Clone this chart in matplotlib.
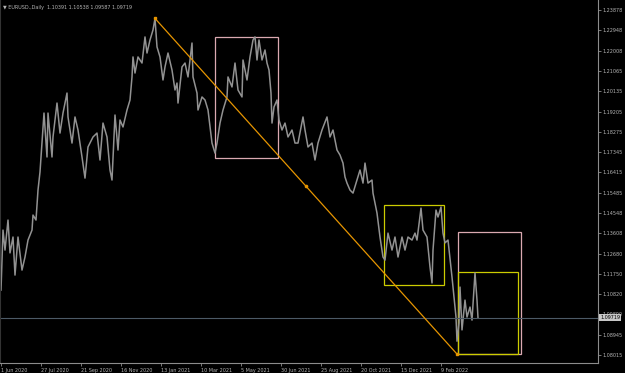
import matplotlib.pyplot as plt
from matplotlib.patches import Rectangle
import matplotlib.transforms as mtransforms

# EURUSD daily, price path (bar index from 1 Jun 2020, price)
bar_idx = [0, 2, 4, 7, 9, 12, 14, 17, 21, 24, 27, 31, 32, 35, 37, 39, 41, 43, 46, 47,
           51, 52, 56, 59, 62, 66, 67, 71, 74, 77, 81, 84, 87, 92, 96, 99, 102, 106, 109, 111,
           114, 117, 119, 122, 126, 129, 131, 132, 134, 137, 141, 144, 146, 149, 152, 154, 156, 159, 162, 164,
           167, 171, 174, 176, 177, 181, 184, 187, 191, 192, 196, 197, 201, 204, 207, 211, 214, 216, 219, 222,
           226, 227, 231, 234, 237, 241, 242, 246, 249, 252, 254, 256, 258, 261, 264, 266, 268, 270, 271, 273,
           276, 278, 281, 284, 287, 291, 294, 297, 302, 304, 307, 311, 314, 317, 321, 326, 329, 332, 336, 339,
           342, 344, 346, 349, 352, 356, 359, 362, 364, 367, 371, 372, 376, 379, 382, 384, 387, 391, 394, 397,
           401, 404, 407, 411, 414, 416, 420, 422, 426, 429, 431, 432, 435, 437, 440, 442, 444, 447, 451, 453,
           455, 456, 458, 459, 461, 464, 466, 469, 471, 474, 476, 477]
price = [1.1100, 1.1376, 1.1284, 1.1422, 1.1271, 1.1344, 1.1169, 1.1344, 1.1192, 1.1252,
         1.1330, 1.1376, 1.1445, 1.1422, 1.1560, 1.1643, 1.1776, 1.1914, 1.1712, 1.1914,
         1.1712, 1.1804, 1.1960, 1.1822, 1.1914, 1.2006, 1.1896, 1.1776, 1.1896, 1.1836,
         1.1712, 1.1615, 1.1758, 1.1804, 1.1822, 1.1698, 1.1868, 1.1804, 1.1652, 1.1606,
         1.1905, 1.1744, 1.1882, 1.1850, 1.1928, 1.1974, 1.2080, 1.2172, 1.2098, 1.2172,
         1.2144, 1.2264, 1.2190, 1.2250, 1.2296, 1.2349, 1.2218, 1.2172, 1.2066, 1.2126,
         1.2190, 1.2112, 1.2020, 1.2052, 1.1960, 1.2126, 1.2144, 1.2080, 1.2236, 1.2080,
         1.2006, 1.1928, 1.1988, 1.1974, 1.1928, 1.1776, 1.1730, 1.1776, 1.1868, 1.1928,
         1.1988, 1.2080, 1.2034, 1.2144, 1.2020, 1.1988, 1.2158, 1.2066, 1.2172, 1.2250,
         1.2264, 1.2158, 1.2250, 1.2158, 1.2204, 1.2144, 1.2112, 1.2006, 1.1868, 1.1942,
         1.1974, 1.1882, 1.1836, 1.1868, 1.1804, 1.1836, 1.1776, 1.1776, 1.1896, 1.1836,
         1.1758, 1.1776, 1.1698, 1.1776, 1.1836, 1.1896, 1.1804, 1.1836, 1.1744, 1.1721,
         1.1684, 1.1620, 1.1592, 1.1560, 1.1546, 1.1606, 1.1652, 1.1592, 1.1684, 1.1592,
         1.1606, 1.1546, 1.1454, 1.1344, 1.1252, 1.1238, 1.1362, 1.1284, 1.1344, 1.1252,
         1.1344, 1.1284, 1.1344, 1.1330, 1.1362, 1.1330, 1.1477, 1.1376, 1.1344, 1.1206,
         1.1133, 1.1284, 1.1468, 1.1436, 1.1482, 1.1362, 1.1317, 1.1330, 1.1160, 1.1068,
         1.0976, 1.0865, 1.0949, 1.1114, 1.0917, 1.1054, 1.0976, 1.1022, 1.0962, 1.1179,
         1.1054, 1.09719]

last_price = 1.09719
title = "\u25BC EURUSD.,Daily  1.10391 1.10538 1.09587 1.09719"

# trend line (bar, price) from the Jan 2021 high to the Mar 2022 low
trend_bars = [154, 456]
trend_prices = [1.2349, 1.0806]

# rectangles: (first bar, last bar, top price, bottom price)
pink_boxes = [(214, 277, 1.2264, 1.1707), (457, 520, 1.1367, 1.0806)]
yellow_boxes = [(383, 443, 1.1491, 1.1123), (457, 517, 1.1183, 1.0806)]

price_ticks = [1.23878, 1.22948, 1.22008, 1.21065, 1.20135, 1.19205, 1.18275, 1.17345, 1.16415,
               1.15485, 1.14548, 1.13608, 1.12680, 1.11750, 1.10820, 1.09890, 1.08945, 1.08015]
date_ticks = [0, 40, 80, 120, 160, 200, 240, 280, 320, 360, 400, 440]
date_labels = ["1 Jun 2020", "27 Jul 2020", "21 Sep 2020", "16 Nov 2020", "13 Jan 2021",
               "10 Mar 2021", "5 May 2021", "30 Jun 2021", "25 Aug 2021", "20 Oct 2021",
               "15 Dec 2021", "9 Feb 2022"]

W, H = 625, 373
fig = plt.figure(figsize=(W / 100, H / 100), dpi=100, facecolor='black')
ax = fig.add_axes([0, 10 / H, 598 / W, 363 / H], facecolor='black')

txt = '#b4b4b4'
grey = '#8c8c8c'

ax.plot(bar_idx, price, color='#929292', lw=1.1)

# current price line
ax.axhline(last_price, color='#4c5a66', lw=0.8)

for x0, x1, top, bot in pink_boxes:
    ax.add_patch(Rectangle((x0, bot), x1 - x0, top - bot, fill=False, ec='#dba9b1', lw=0.9))
for x0, x1, top, bot in yellow_boxes:
    ax.add_patch(Rectangle((x0, bot), x1 - x0, top - bot, fill=False, ec='#cccc00', lw=0.9))

ax.plot(trend_bars, trend_prices, color='#e69500', lw=0.9)
ax.plot(trend_bars, trend_prices, 's', color='#e69500', ms=2)
ax.plot(sum(trend_bars) / 2, sum(trend_prices) / 2, 'o', color='#e69500', ms=1.6)

ax.set_xlim(-1, 597)
ax.set_ylim(1.07648, 1.24338)

ax.spines['top'].set_visible(False)
ax.spines['left'].set_color('#333333')
ax.spines['bottom'].set_color(grey)
ax.spines['right'].set_color(grey)
for s in ['left', 'bottom', 'right']:
    ax.spines[s].set_linewidth(0.8)

ax.yaxis.tick_right()
ax.set_yticks(price_ticks)
ax.set_yticklabels([f"{v:.5f}" for v in price_ticks])
ax.set_xticks(date_ticks)
ax.set_xticklabels(date_labels, ha='left')
ax.tick_params(axis='both', colors=grey, labelcolor=txt, labelsize=3.5, length=2, width=0.6, pad=1.5)

# price label on the right axis, covering the tick label beneath it
trans = mtransforms.blended_transform_factory(ax.transAxes, ax.transData)
ax.text(1.004, last_price, f"{last_price:.5f}", transform=trans, fontsize=3.5, color='black',
        va='center', ha='left', zorder=10, clip_on=False,
        bbox=dict(boxstyle='square,pad=0.2', fc='#c8c8c8', ec='none'))

fig.text(3 / W, 1 - 7 / H, title, color=txt, fontsize=3.5, va='center', ha='left')

fig.savefig('out.png', dpi=100, facecolor='black')
